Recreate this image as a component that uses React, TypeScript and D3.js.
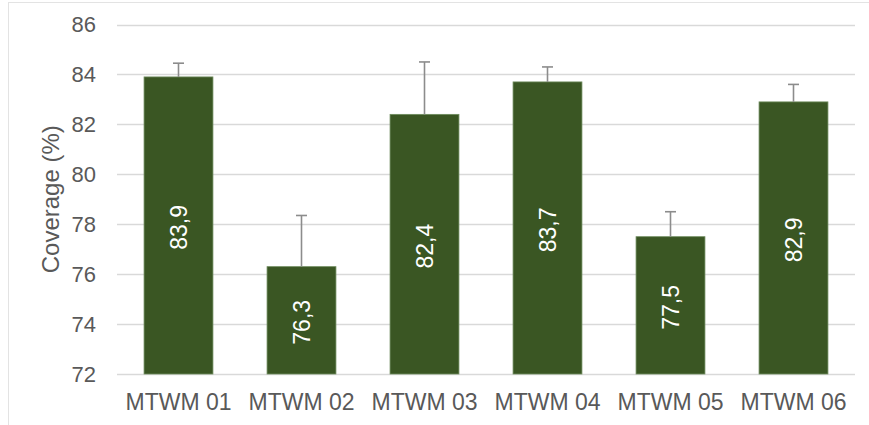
import React from "react";
import * as d3 from "d3";

const categories = ["MTWM 01", "MTWM 02", "MTWM 03", "MTWM 04", "MTWM 05", "MTWM 06"];
const values = [83.9, 76.3, 82.4, 83.7, 77.5, 82.9];
const errors = [0.55, 2.05, 2.1, 0.6, 1.0, 0.7];
const yTicks = [72, 74, 76, 78, 80, 82, 84, 86];

export default function App() {
  const W = 869, H = 425;
  const left = 117, right = 855, top = 24.5, bottom = 374;
  const x = d3.scaleBand<string>().domain(categories).range([left, right]).paddingInner(0.44).paddingOuter(0.22);
  const y = d3.scaleLinear().domain([72, 86]).range([bottom, top]);
  const font = "'Liberation Sans', Arial, Helvetica, sans-serif";
  const gray = "#595959";
  return (
    <svg width={W} height={H} style={{ position: "absolute", left: 0, top: 0, background: "#fff" }} fontFamily={font}>
      <rect x={8.5} y={2.5} width={1000} height={1000} fill="none" stroke="#e3e3e3" strokeWidth={1} />
      {yTicks.map((t) => (
        <g key={t}>
          <line x1={left} x2={right} y1={Math.round(y(t)) + 0.5} y2={Math.round(y(t)) + 0.5} stroke="#d9d9d9" strokeWidth={1.3} />
          <text x={96} y={y(t)} dy="0.35em" textAnchor="end" fontSize={22} fill={gray}>{t}</text>
        </g>
      ))}
      {categories.map((c, i) => {
        const bx = x(c)!;
        const bw = x.bandwidth();
        const cx = bx + bw / 2;
        const v = values[i];
        const ey = y(v + errors[i]);
        return (
          <g key={c}>
            <rect x={bx} y={y(v)} width={bw} height={y(72) - y(v)} fill="#3a5623" stroke="#6f8c5e" strokeWidth={0.8} />
            <line x1={cx} x2={cx} y1={y(v)} y2={ey} stroke="#8c8c8c" strokeWidth={1.6} />
            <line x1={cx - 5.5} x2={cx + 5.5} y1={ey} y2={ey} stroke="#8c8c8c" strokeWidth={1.6} />
            <text
              transform={`translate(${cx},${(y(v) + y(72)) / 2 + 2}) rotate(-90)`}
              textAnchor="middle"
              dy="0.35em"
              fontSize={23}
              fill="#ffffff"
            >
              {v.toFixed(1).replace(".", ",")}
            </text>
            <text x={cx} y={410} textAnchor="middle" fontSize={23} fill={gray}>{c}</text>
          </g>
        );
      })}
      <text transform={`translate(51,${(top + bottom) / 2}) rotate(-90)`} textAnchor="middle" dy="0.35em" fontSize={24} fill={gray}>
        Coverage (%)
      </text>
    </svg>
  );
}
